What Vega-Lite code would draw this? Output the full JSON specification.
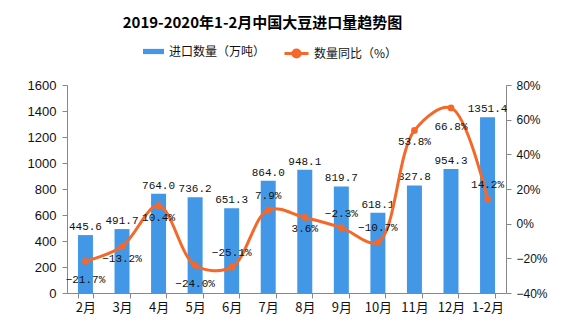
{
  "$schema": "https://vega.github.io/schema/vega-lite/v6.json",
  "width": 439,
  "height": 208,
  "autosize": {"type": "none"},
  "padding": {"left": 67, "top": 85, "right": 71, "bottom": 34},
  "background": "white",
  "title": {"text": "2019-2020年1-2月中国大豆进口量趋势图", "font": "Noto Sans CJK SC", "fontSize": 15, "fontWeight": "bold", "color": "#000", "anchor": "middle", "dx": -24, "offset": 9},
  "config": {
    "view": {"stroke": null},
    "axis": {"domainColor": "#888", "tickColor": "#888", "labelColor": "#111", "grid": false, "tickSize": 5, "labelOverlap": false}
  },
  "data": {"values": [
    {"month": "2月", "qty": 445.6, "pct": -0.217},
    {"month": "3月", "qty": 491.7, "pct": -0.132},
    {"month": "4月", "qty": 764.0, "pct": 0.104},
    {"month": "5月", "qty": 736.2, "pct": -0.240},
    {"month": "6月", "qty": 651.3, "pct": -0.251},
    {"month": "7月", "qty": 864.0, "pct": 0.079},
    {"month": "8月", "qty": 948.1, "pct": 0.036},
    {"month": "9月", "qty": 819.7, "pct": -0.023},
    {"month": "10月", "qty": 618.1, "pct": -0.107},
    {"month": "11月", "qty": 827.8, "pct": 0.538},
    {"month": "12月", "qty": 954.3, "pct": 0.668},
    {"month": "1-2月", "qty": 1351.4, "pct": 0.142}
  ]},
  "encoding": {
    "x": {"field": "month", "type": "nominal", "sort": null,
      "scale": {"paddingInner": 0.59, "paddingOuter": 0.3},
      "axis": {"title": null, "labelAngle": 0, "tickBand": "extent", "labelFont": "Noto Sans CJK SC", "labelFontSize": 13, "labelPadding": 3}}
  },
  "layer": [
    {
      "encoding": {
        "y": {"field": "qty", "type": "quantitative", "scale": {"domain": [0, 1600]},
          "axis": {"title": null, "format": "d", "values": [0,200,400,600,800,1000,1200,1400,1600], "labelOverlap": false, "labelFont": "Liberation Sans", "labelFontSize": 13, "labelPadding": 6}}
      },
      "layer": [
        {"mark": {"type": "bar"},
         "encoding": {
           "fill": {"datum": "进口数量（万吨）", "scale": {"range": ["#4298E6"]},
             "legend": {"title": null, "orient": "none", "legendX": 75, "legendY": -45, "symbolType": "M-1,-0.25H1V0.25H-1Z", "symbolSize": 441, "labelFont": "Noto Sans CJK SC", "labelFontSize": 12, "labelColor": "#111"}}
         }},
        {"mark": {"type": "text", "baseline": "bottom", "dy": -3, "font": "Liberation Mono", "fontSize": 11, "color": "#111"},
         "encoding": {
           "text": {"field": "qty", "type": "quantitative", "format": ".1f"}
         }}
      ]
    },
    {
      "encoding": {
        "y": {"field": "pct", "type": "quantitative", "scale": {"domain": [-0.4, 0.8]},
          "axis": {"orient": "right", "title": null, "format": ".0%", "values": [-0.4,-0.2,0,0.2,0.4,0.6,0.8], "labelOverlap": false, "labelFont": "Liberation Sans", "labelFontSize": 12, "labelPadding": 5}}
      },
      "layer": [
        {"mark": {"type": "line", "interpolate": "catmull-rom", "strokeWidth": 3},
         "encoding": {
           "stroke": {"datum": "数量同比（%）", "scale": {"range": ["#F5682A"]},
             "legend": {"title": null, "orient": "none", "legendX": 216, "legendY": -45, "symbolType": "M-1,0H1M-0.3,0A0.3,0.3,0,1,1,0.3,0A0.3,0.3,0,1,1,-0.3,0Z", "symbolSize": 576, "symbolStrokeWidth": 3, "symbolFillColor": "#F5682A", "labelFont": "Noto Sans CJK SC", "labelFontSize": 12, "labelColor": "#111"}}
         }},
        {"mark": {"type": "point", "filled": true, "size": 45, "color": "#F5682A", "opacity": 1}, "encoding": {}},
        {"transform": [{"filter": {"field": "month", "oneOf": ["2月", "5月", "12月"]}}],
         "mark": {"type": "text", "baseline": "middle", "dy": 19, "font": "Liberation Mono", "fontSize": 11, "color": "#111"},
         "encoding": {"text": {"field": "pct", "type": "quantitative", "format": ".1%"}}},
        {"transform": [{"filter": {"field": "month", "oneOf": ["3月", "4月", "8月", "11月"]}}],
         "mark": {"type": "text", "baseline": "middle", "dy": 12, "font": "Liberation Mono", "fontSize": 11, "color": "#111"},
         "encoding": {"text": {"field": "pct", "type": "quantitative", "format": ".1%"}}},
        {"transform": [{"filter": {"field": "month", "oneOf": ["6月", "7月", "9月", "10月", "1-2月"]}}],
         "mark": {"type": "text", "baseline": "middle", "dy": -14, "font": "Liberation Mono", "fontSize": 11, "color": "#111"},
         "encoding": {"text": {"field": "pct", "type": "quantitative", "format": ".1%"}}}
      ]
    }
  ],
  "resolve": {"scale": {"y": "independent"}}
}
